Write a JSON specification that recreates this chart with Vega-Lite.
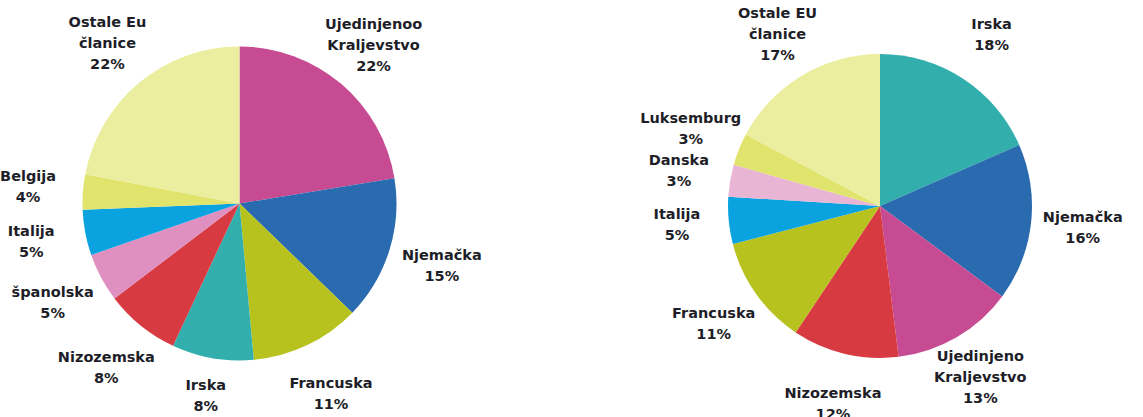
{
  "$schema": "https://vega.github.io/schema/vega-lite/v6.json",
  "padding": 0,
  "background": "white",
  "spacing": 132,
  "config": {
    "view": {"stroke": null},
    "text": {"lineBreak": "\n", "lineHeight": 21, "align": "center", "baseline": "middle", "font": "DejaVu Sans", "fontWeight": "bold", "fontSize": 14.5}
  },
  "datasets": {
    "lijevo": [
      {"red": 1, "kljuc": "UK", "oznaka": "Ujedinjenoo\nKraljevstvo\n22%", "udio": 22.4},
      {"red": 2, "kljuc": "DE", "oznaka": "Njemačka\n15%", "udio": 14.8},
      {"red": 3, "kljuc": "FR", "oznaka": "Francuska\n11%", "udio": 11.3},
      {"red": 4, "kljuc": "IE", "oznaka": "Irska\n8%", "udio": 8.4},
      {"red": 5, "kljuc": "NL", "oznaka": "Nizozemska\n8%", "udio": 7.7},
      {"red": 6, "kljuc": "ES", "oznaka": "španolska\n5%", "udio": 5.0},
      {"red": 7, "kljuc": "IT", "oznaka": "Italija\n5%", "udio": 4.7},
      {"red": 8, "kljuc": "BE", "oznaka": "Belgija\n4%", "udio": 3.6},
      {"red": 9, "kljuc": "OST", "oznaka": "Ostale Eu\nčlanice\n22%", "udio": 22.0}
    ],
    "desno": [
      {"red": 1, "kljuc": "IE", "oznaka": "Irska\n18%", "udio": 18.4},
      {"red": 2, "kljuc": "DE", "oznaka": "Njemačka\n16%", "udio": 16.7},
      {"red": 3, "kljuc": "UK", "oznaka": "Ujedinjeno\nKraljevstvo\n13%", "udio": 12.9},
      {"red": 4, "kljuc": "NL", "oznaka": "Nizozemska\n12%", "udio": 11.3},
      {"red": 5, "kljuc": "FR", "oznaka": "Francuska\n11%", "udio": 11.6},
      {"red": 6, "kljuc": "IT", "oznaka": "Italija\n5%", "udio": 5.0},
      {"red": 7, "kljuc": "DK", "oznaka": "Danska\n3%", "udio": 3.4},
      {"red": 8, "kljuc": "LU", "oznaka": "Luksemburg\n3%", "udio": 3.4},
      {"red": 9, "kljuc": "OST", "oznaka": "Ostale EU\nčlanice\n17%", "udio": 17.2}
    ]
  },
  "hconcat": [
    {
      "width": 479,
      "height": 407,
      "data": {"name": "lijevo"},
      "encoding": {
        "theta": {"field": "udio", "type": "quantitative", "stack": true},
        "order": {"field": "red", "type": "quantitative"},
        "color": {
          "field": "kljuc",
          "type": "nominal",
          "legend": null,
          "scale": {
            "domain": ["UK", "DE", "FR", "IE", "NL", "ES", "IT", "BE", "DK", "LU", "OST"],
            "range": ["#c74b93", "#2a6aaf", "#b8c21e", "#32afad", "#d73a40", "#df8fc0", "#0aa3e0", "#e0e46c", "#e8b5d4", "#e0e46c", "#ebee9e"]
          }
        }
      },
      "layer": [
        {"mark": {"type": "arc", "outerRadius": 157}},
        {
          "mark": {"type": "text", "radius": 207, "dy": -21},
          "encoding": {
            "text": {"condition": {"test": "datum.kljuc === 'UK' || datum.kljuc === 'OST'", "field": "oznaka"}, "value": ""},
            "detail": {"field": "kljuc", "type": "nominal"},
            "color": {"value": "#1e1e28"}
          }
        },
        {
          "mark": {"type": "text", "radius": 212, "dy": -10.5},
          "encoding": {
            "text": {"condition": {"test": "datum.kljuc !== 'UK' && datum.kljuc !== 'OST' && datum.kljuc !== 'IE'", "field": "oznaka"}, "value": ""},
            "detail": {"field": "kljuc", "type": "nominal"},
            "color": {"value": "#1e1e28"}
          }
        },
        {
          "mark": {"type": "text", "radius": 196, "dy": -10.5},
          "encoding": {
            "text": {"condition": {"test": "datum.kljuc === 'IE'", "field": "oznaka"}, "value": ""},
            "detail": {"field": "kljuc", "type": "nominal"},
            "color": {"value": "#1e1e28"}
          }
        }
      ]
    },
    {
      "width": 532,
      "height": 412,
      "data": {"name": "desno"},
      "encoding": {
        "theta": {"field": "udio", "type": "quantitative", "stack": true},
        "order": {"field": "red", "type": "quantitative"},
        "color": {
          "field": "kljuc",
          "type": "nominal",
          "legend": null,
          "scale": {
            "domain": ["UK", "DE", "FR", "IE", "NL", "ES", "IT", "BE", "DK", "LU", "OST"],
            "range": ["#c74b93", "#2a6aaf", "#b8c21e", "#32afad", "#d73a40", "#df8fc0", "#0aa3e0", "#e0e46c", "#e8b5d4", "#e0e46c", "#ebee9e"]
          }
        }
      },
      "layer": [
        {"mark": {"type": "arc", "outerRadius": 152}},
        {
          "mark": {"type": "text", "radius": 199, "dy": -21},
          "encoding": {
            "text": {"condition": {"test": "datum.kljuc === 'UK' || datum.kljuc === 'OST'", "field": "oznaka"}, "value": ""},
            "detail": {"field": "kljuc", "type": "nominal"},
            "color": {"value": "#1e1e28"}
          }
        },
        {
          "mark": {"type": "text", "radius": 204, "dy": -10.5},
          "encoding": {
            "text": {"condition": {"test": "datum.kljuc !== 'UK' && datum.kljuc !== 'OST'", "field": "oznaka"}, "value": ""},
            "detail": {"field": "kljuc", "type": "nominal"},
            "color": {"value": "#1e1e28"}
          }
        }
      ]
    }
  ],
  "resolve": {"scale": {"color": "independent", "theta": "independent"}}
}
